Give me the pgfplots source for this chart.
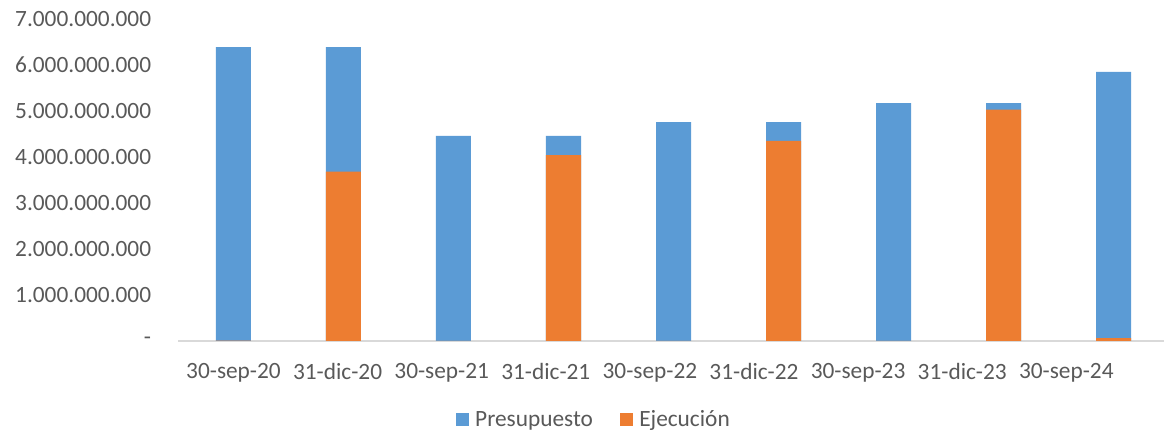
\documentclass[border=0pt]{standalone}
\usepackage{pgfplots}
\pgfplotsset{compat=1.18}
\usepackage{fontspec}
\setmainfont{Carlito}
\definecolor{presblue}{HTML}{5B9BD5}
\definecolor{ejeorange}{HTML}{ED7D31}
\definecolor{txtgray}{HTML}{595959}
\definecolor{axgray}{HTML}{D9D9D9}
\begin{document}
\begin{tikzpicture}
\begin{axis}[
    scale only axis,
    width=742.5pt, height=241.5pt,
    xmin=-0.5, xmax=8.5,
    ymin=0, ymax=7000000000,
    scaled y ticks=false,
    bar width=26.25pt,
    bar shift=0pt,
    axis x line=bottom,
    axis y line=left,
    y axis line style={draw=none},
    x axis line style={draw=axgray, line width=1.5pt, -},
    major tick length=0pt,
    % labels sit a little tighter than the bars in the original
    xtick={0,0.946,1.893,2.839,3.786,4.732,5.678,6.625,7.571},
    xticklabels={30-sep-20,31-dic-20,30-sep-21,31-dic-21,30-sep-22,31-dic-22,30-sep-23,31-dic-23,30-sep-24},
    ytick={0,1000000000,2000000000,3000000000,4000000000,5000000000,6000000000,7000000000},
    yticklabels={-,1.000.000.000,2.000.000.000,3.000.000.000,4.000.000.000,5.000.000.000,6.000.000.000,7.000.000.000},
    tick label style={font=\fontsize{17.5pt}{20pt}\selectfont, text=txtgray},
    yticklabel style={anchor=east, xshift=-17pt},
    xticklabel style={anchor=north, yshift=-13pt},
    legend style={at={(0.4197,-0.245)}, anchor=center, draw=none,
        legend columns=-1, font=\fontsize{17.5pt}{20pt}\selectfont, text=txtgray,
        /tikz/every odd column/.append style={column sep=3pt},
        /tikz/every even column/.append style={column sep=18pt}},
    legend image code/.code={\fill[#1] (0pt,-4.875pt) rectangle (9.75pt,4.875pt);},
]
\addplot[ybar, fill=presblue, draw=none] coordinates {
    (0,6390000000) (1,6390000000) (2,4460000000) (3,4460000000) (4,4760000000)
    (5,4760000000) (6,5170000000) (7,5170000000) (8,5850000000)
};
\addplot[ybar, fill=ejeorange, draw=none] coordinates {
    (0,10000000) (1,3680000000) (2,0) (3,4040000000) (4,0)
    (5,4350000000) (6,0) (7,5030000000) (8,60000000)
};
\legend{Presupuesto, Ejecución}
\end{axis}
\pgfresetboundingbox
\path[use as bounding box] (-133.875pt,-70.5pt) rectangle (739.125pt,255.75pt);
\end{tikzpicture}
\end{document}
